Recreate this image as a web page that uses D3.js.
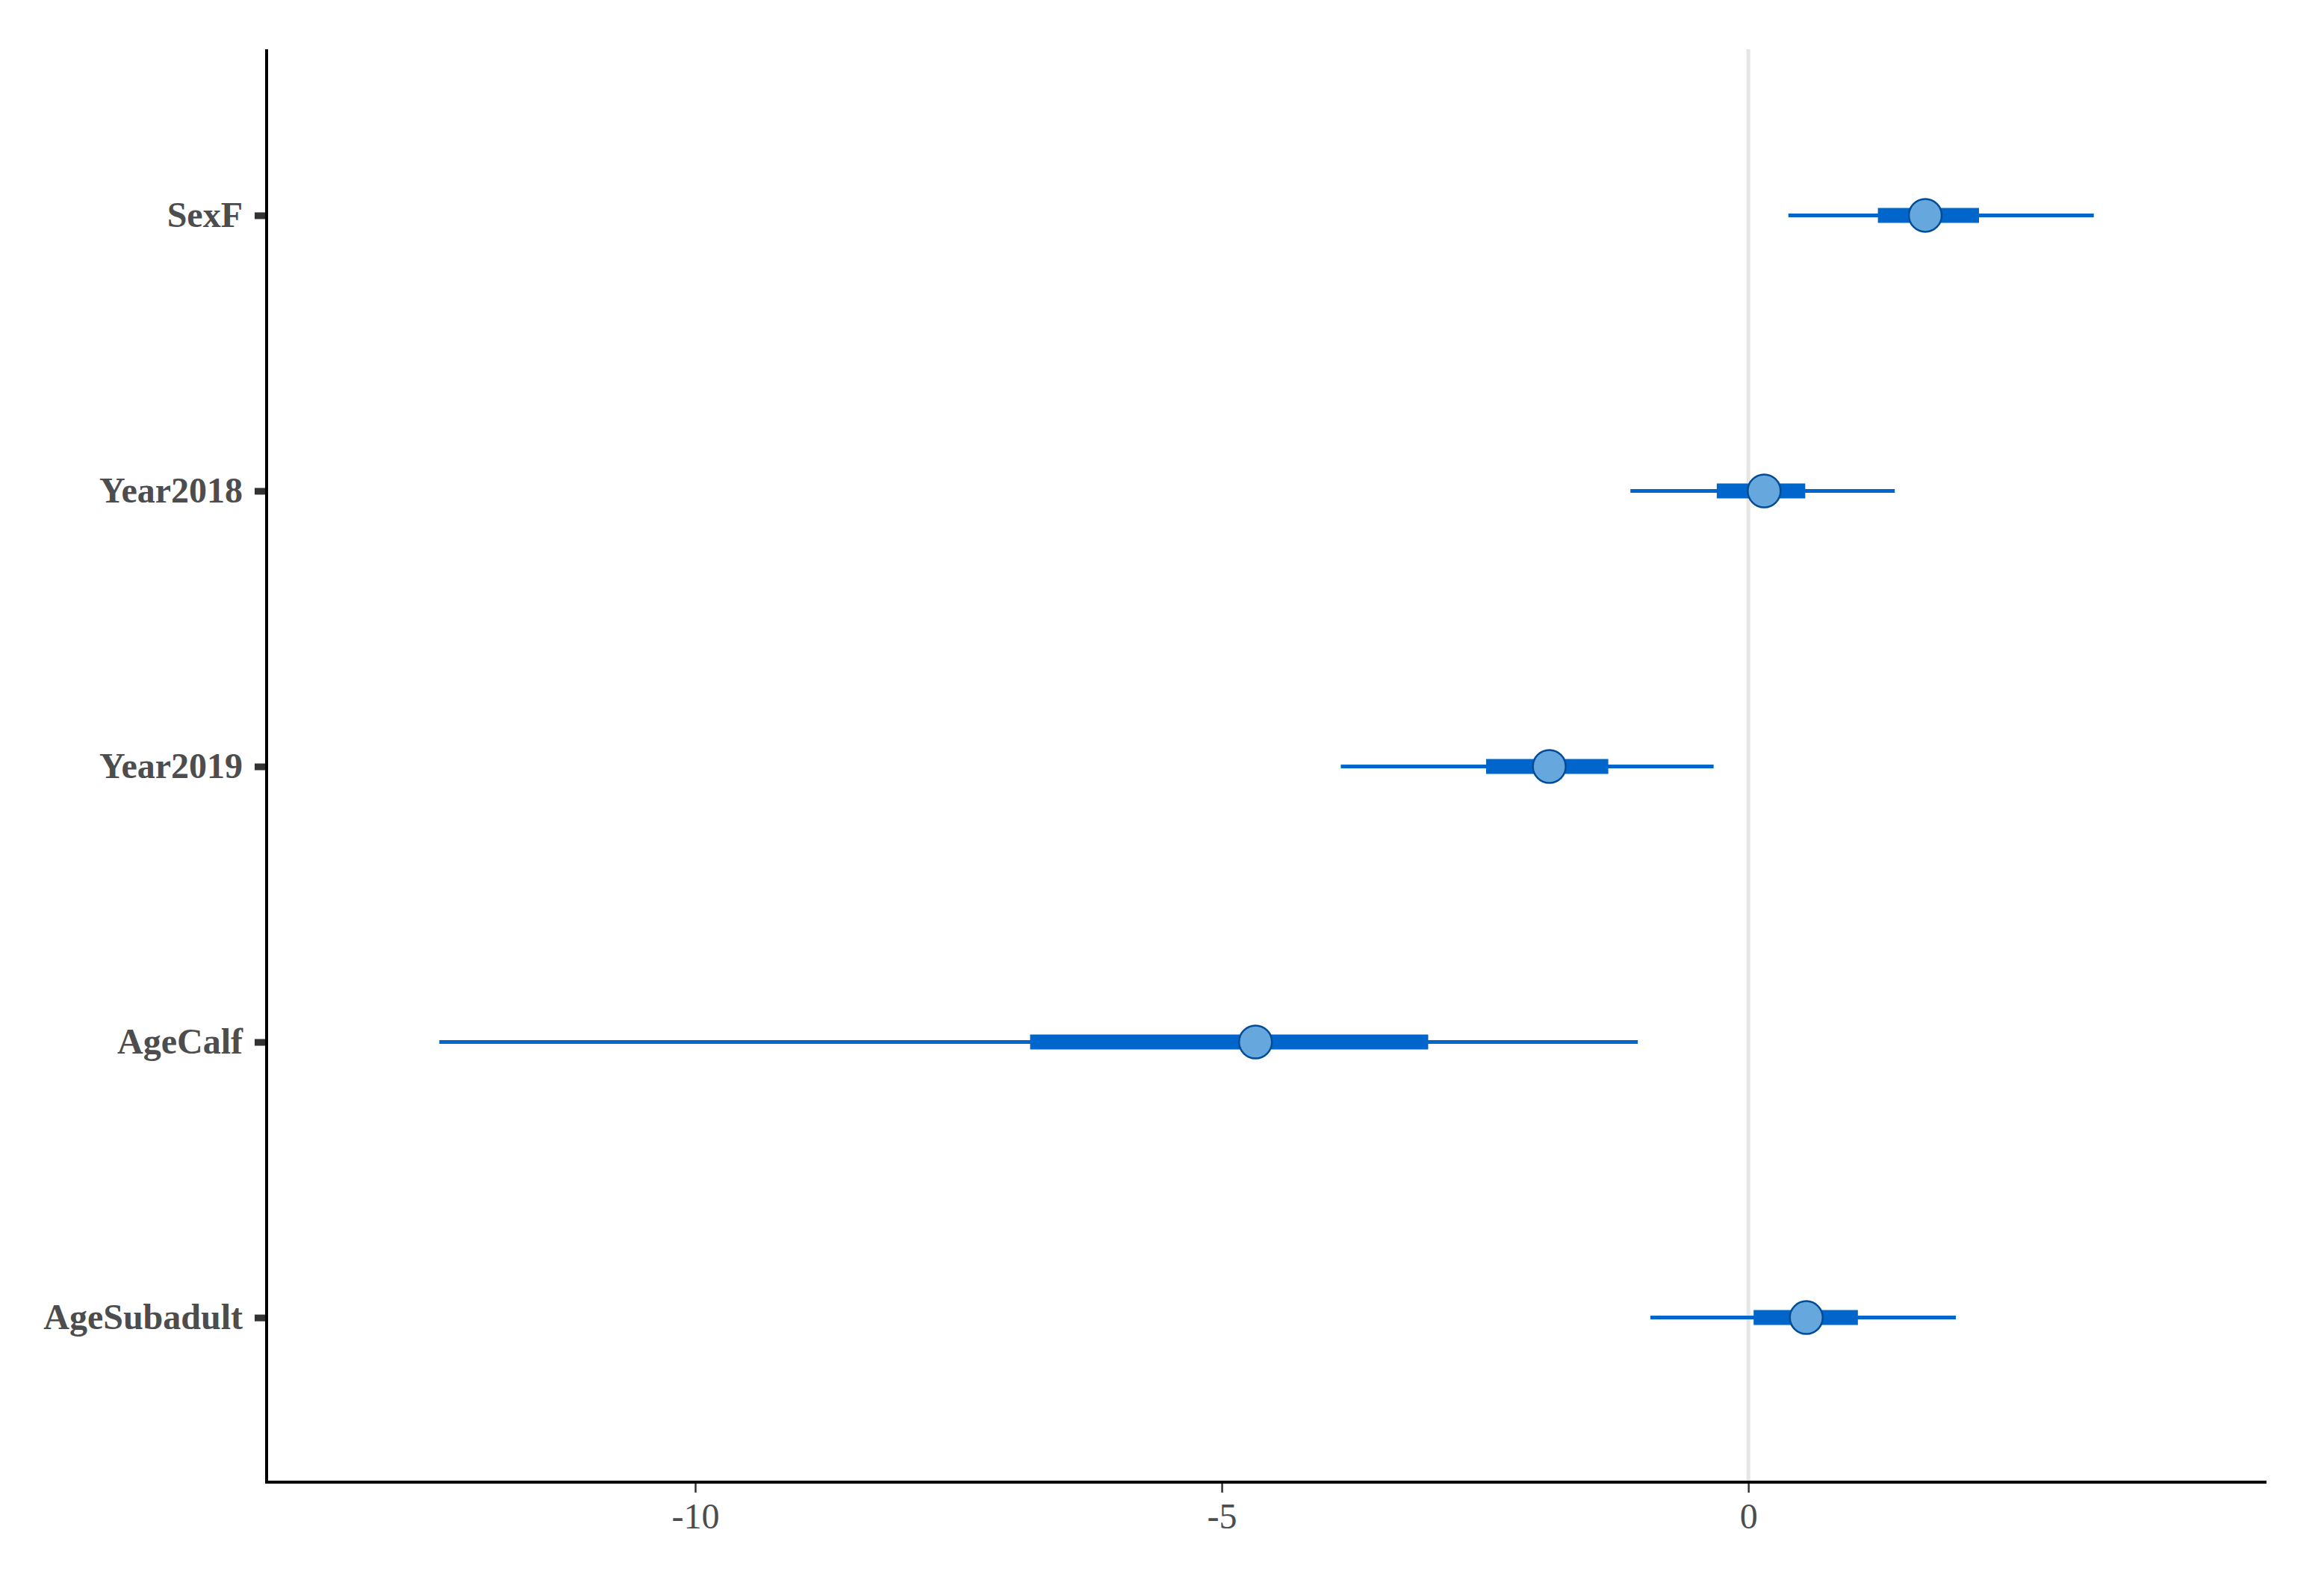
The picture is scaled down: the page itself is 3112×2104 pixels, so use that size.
<!DOCTYPE html>
<html>
<head>
<meta charset="utf-8">
<script src="https://cdn.jsdelivr.net/npm/d3@7"></script>
<style>
  html, body { margin: 0; padding: 0; background: #ffffff; }
  svg { display: block; }
</style>
</head>
<body>
<svg id="chart" width="3112" height="2104"></svg>
<script>
// ---- data ----
const params = ["SexF", "Year2018", "Year2019", "AgeCalf", "AgeSubadult"];
const outerLow  = [0.38, -1.12, -3.87, -12.43, -0.93];
const innerLow  = [1.23, -0.30, -2.49, -6.82, 0.05];
const pointEst  = [1.68, 0.15, -1.89, -4.68, 0.55];
const innerHigh = [2.19, 0.54, -1.33, -3.04, 1.04];
const outerHigh = [3.28, 1.39, -0.33, -1.05, 1.97];
const xTicks = [-10, -5, 0];
const xDomain = [-14.07, 4.92];

const rows = params.map((p, i) => ({
  param: p, ll: outerLow[i], l: innerLow[i], m: pointEst[i], h: innerHigh[i], hh: outerHigh[i]
}));

// ---- layout ----
const svg = d3.select("#chart");
const panel = { left: 357, right: 3035, top: 66, bottom: 1985 };

const x = d3.scaleLinear().domain(xDomain).range([panel.left, panel.right]);
const y = d3.scalePoint().domain(params).range([panel.top, panel.bottom]).padding(0.6);

const font = "'Liberation Serif', 'Times New Roman', serif";

// zero reference line
svg.append("line")
  .attr("x1", x(0)).attr("x2", x(0))
  .attr("y1", panel.top).attr("y2", panel.bottom)
  .attr("stroke", "#e5e5e5").attr("stroke-width", 5);

// outer intervals
svg.append("g").selectAll("line").data(rows).join("line")
  .attr("x1", d => x(d.ll)).attr("x2", d => x(d.hh))
  .attr("y1", d => y(d.param) + 1).attr("y2", d => y(d.param) + 1)
  .attr("stroke", "#0066cc").attr("stroke-width", 5);

// inner intervals
svg.append("g").selectAll("line").data(rows).join("line")
  .attr("x1", d => x(d.l)).attr("x2", d => x(d.h))
  .attr("y1", d => y(d.param) + 1).attr("y2", d => y(d.param) + 1)
  .attr("stroke", "#0066cc").attr("stroke-width", 20);

// points
svg.append("g").selectAll("circle").data(rows).join("circle")
  .attr("cx", d => x(d.m)).attr("cy", d => y(d.param) + 1)
  .attr("r", 22)
  .attr("fill", "#66a7de").attr("stroke", "#004c99").attr("stroke-width", 2.5);

// x axis
const xAxis = d3.axisBottom(x).tickValues(xTicks).tickSize(14).tickPadding(14)
  .tickFormat(d3.format("d"));
const gx = svg.append("g").attr("transform", `translate(0,${panel.bottom})`).call(xAxis);
gx.select(".domain").remove();
gx.selectAll(".tick line").attr("stroke", "#333333").attr("stroke-width", 2.5);
gx.selectAll(".tick text")
  .attr("font-family", font).attr("font-size", 48).attr("fill", "#4d4d4d")
  .text(d => d < 0 ? "-" + Math.abs(d) : d);
svg.append("line")
  .attr("x1", panel.left - 2).attr("x2", panel.right)
  .attr("y1", panel.bottom).attr("y2", panel.bottom)
  .attr("stroke", "#000000").attr("stroke-width", 4);

// y axis
const yAxis = d3.axisLeft(y).tickSize(16).tickPadding(16);
const gy = svg.append("g").attr("transform", `translate(${panel.left},1)`).call(yAxis);
gy.select(".domain").remove();
gy.selectAll(".tick line").attr("stroke", "#333333").attr("stroke-width", 9);
gy.selectAll(".tick text")
  .attr("font-family", font).attr("font-size", 48).attr("font-weight", "bold")
  .attr("fill", "#4d4d4d");
svg.append("line")
  .attr("x1", panel.left).attr("x2", panel.left)
  .attr("y1", panel.top).attr("y2", panel.bottom + 2)
  .attr("stroke", "#000000").attr("stroke-width", 4);
</script>
</body>
</html>
